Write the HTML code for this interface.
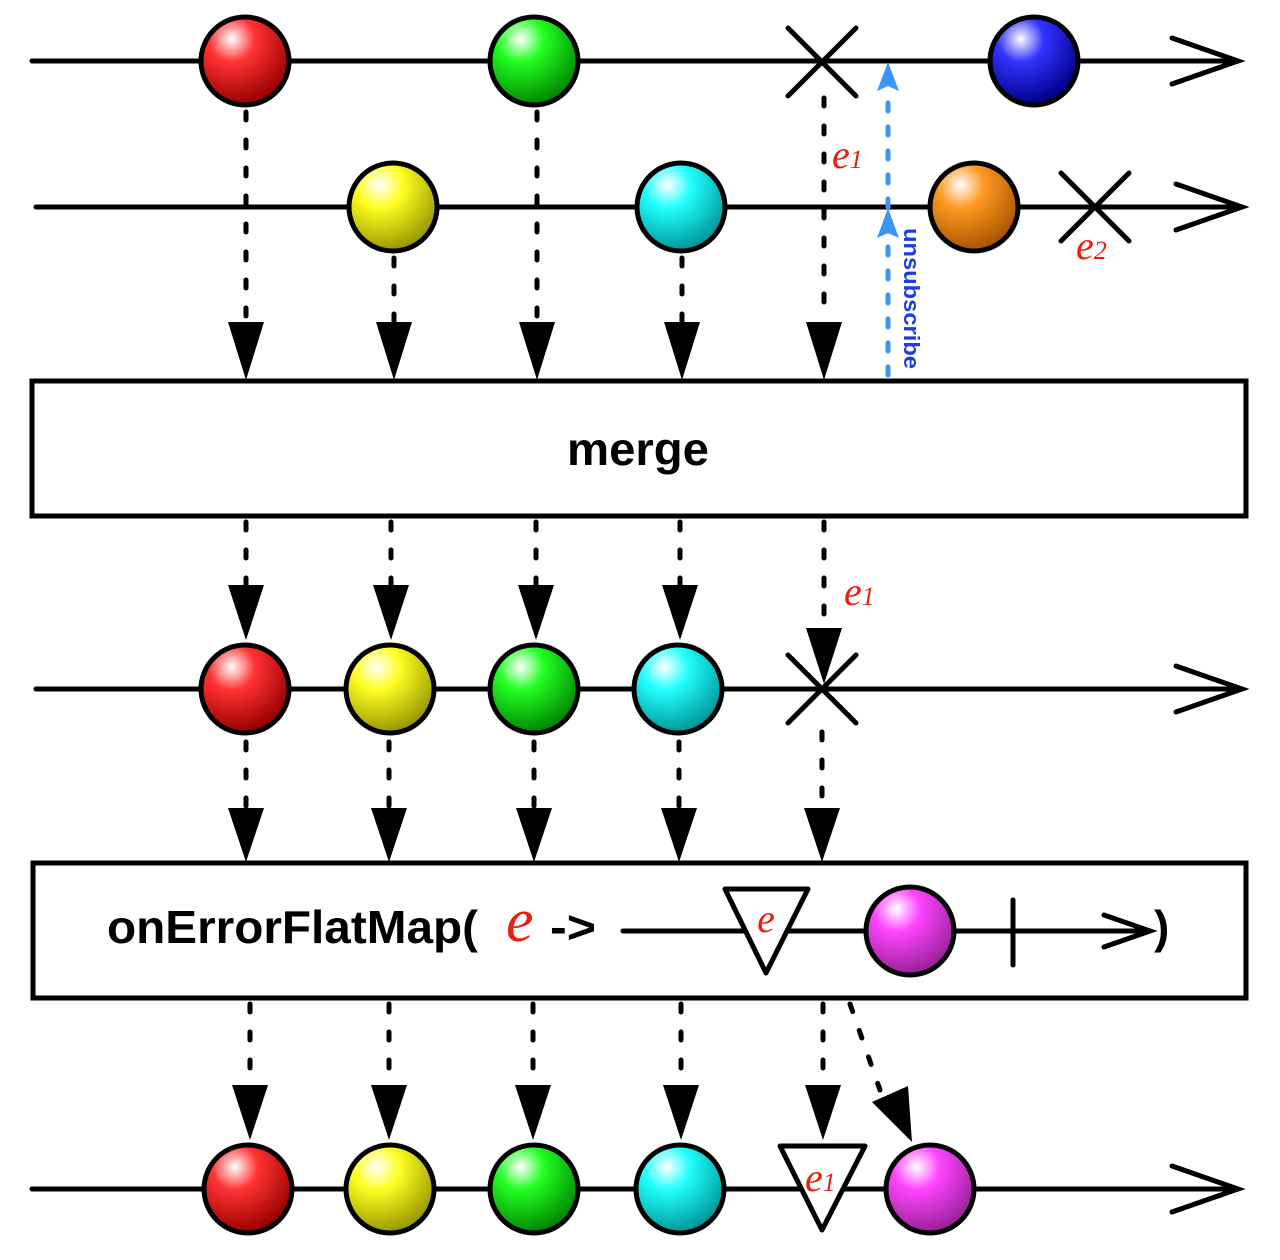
<!DOCTYPE html>
<html><head><meta charset="utf-8"><style>html,body{margin:0;padding:0;background:#fff}svg{display:block}</style></head>
<body>
<svg width="1280" height="1260" viewBox="0 0 1280 1260" xmlns="http://www.w3.org/2000/svg">
<defs>
<radialGradient id="gr" cx="35%" cy="25%" r="75%"><stop offset="0" stop-color="#fff"/><stop offset="0.35" stop-color="#f33"/><stop offset="1" stop-color="#900"/></radialGradient>
<radialGradient id="gg" cx="35%" cy="25%" r="75%"><stop offset="0" stop-color="#fff"/><stop offset="0.35" stop-color="#2f2"/><stop offset="1" stop-color="#080"/></radialGradient>
<radialGradient id="gb" cx="35%" cy="25%" r="75%"><stop offset="0" stop-color="#fff"/><stop offset="0.35" stop-color="#33f"/><stop offset="1" stop-color="#008"/></radialGradient>
<radialGradient id="gy" cx="35%" cy="25%" r="75%"><stop offset="0" stop-color="#fff"/><stop offset="0.35" stop-color="#ff2"/><stop offset="1" stop-color="#990"/></radialGradient>
<radialGradient id="gc" cx="35%" cy="25%" r="75%"><stop offset="0" stop-color="#fff"/><stop offset="0.35" stop-color="#2ff"/><stop offset="1" stop-color="#099"/></radialGradient>
<radialGradient id="go" cx="35%" cy="25%" r="75%"><stop offset="0" stop-color="#fff"/><stop offset="0.35" stop-color="#f92"/><stop offset="1" stop-color="#a50"/></radialGradient>
<radialGradient id="gm" cx="35%" cy="25%" r="75%"><stop offset="0" stop-color="#fff"/><stop offset="0.35" stop-color="#f4f"/><stop offset="1" stop-color="#929"/></radialGradient>
</defs>
<g stroke="#000" stroke-width="5" fill="none" stroke-linecap="round">
<line x1="32" y1="61" x2="1238" y2="61"/><path d="M1172 38 L1238 61 L1172 84"/>
<line x1="36" y1="207" x2="1242" y2="207"/><path d="M1176 184 L1242 207 L1176 230"/>
<line x1="36" y1="689" x2="1242" y2="689"/><path d="M1176 666 L1242 689 L1176 712"/>
<line x1="32" y1="1189" x2="1238" y2="1189"/><path d="M1172 1166 L1238 1189 L1172 1212"/>
</g>
<g stroke="#000" stroke-width="5" stroke-dasharray="8 20" stroke-linecap="round" fill="none">
<line x1="246" y1="112" x2="246" y2="322"/>
<line x1="394" y1="258" x2="394" y2="322"/>
<line x1="537" y1="112" x2="537" y2="322"/>
<line x1="682" y1="258" x2="682" y2="322"/>
<line x1="824" y1="98" x2="824" y2="322"/>
<line x1="246" y1="522" x2="246" y2="585"/>
<line x1="391" y1="522" x2="391" y2="585"/>
<line x1="536" y1="522" x2="536" y2="585"/>
<line x1="680" y1="522" x2="680" y2="585"/>
<line x1="824" y1="522" x2="824" y2="640"/>
<line x1="246" y1="742" x2="246" y2="808"/>
<line x1="389" y1="742" x2="389" y2="808"/>
<line x1="534" y1="742" x2="534" y2="808"/>
<line x1="679" y1="742" x2="679" y2="808"/>
<line x1="822" y1="732" x2="822" y2="808"/>
<line x1="250" y1="1004" x2="250" y2="1085"/>
<line x1="389" y1="1004" x2="389" y2="1085"/>
<line x1="533" y1="1004" x2="533" y2="1085"/>
<line x1="681" y1="1004" x2="681" y2="1085"/>
<line x1="823" y1="1004" x2="823" y2="1085"/>
<line x1="850" y1="1004" x2="880" y2="1090"/>
</g>
<g fill="#000">
<path d="M228 322 L264 322 L246 380Z"/><path d="M376 322 L412 322 L394 380Z"/><path d="M519 322 L555 322 L537 380Z"/><path d="M664 322 L700 322 L682 380Z"/><path d="M806 322 L842 322 L824 380Z"/>
<path d="M228 585 L264 585 L246 640Z"/><path d="M373 585 L409 585 L391 640Z"/><path d="M518 585 L554 585 L536 640Z"/><path d="M662 585 L698 585 L680 640Z"/><path d="M806 628 L842 628 L824 684Z"/>
<path d="M228 808 L264 808 L246 862Z"/><path d="M371 808 L407 808 L389 862Z"/><path d="M516 808 L552 808 L534 862Z"/><path d="M661 808 L697 808 L679 862Z"/><path d="M804 808 L840 808 L822 862Z"/>
<path d="M232 1085 L268 1085 L250 1140Z"/><path d="M371 1085 L407 1085 L389 1140Z"/><path d="M515 1085 L551 1085 L533 1140Z"/><path d="M663 1085 L699 1085 L681 1140Z"/><path d="M805 1085 L841 1085 L823 1140Z"/>
<path d="M872 1102 L908 1086 L912 1142Z"/>
</g>
<g stroke="#3a96f0" stroke-width="5" stroke-dasharray="8 16" stroke-linecap="round" fill="none">
<line x1="888" y1="375" x2="888" y2="92"/>
</g>
<g fill="#3a96f0"><path d="M877 91 L888 62 L899 91 L888 86Z"/><path d="M877 238 L888 208 L899 238 L888 233Z"/></g>
<text transform="translate(904,228) rotate(90)" font-family="Liberation Sans, sans-serif" font-weight="bold" font-size="22" fill="#1a3fe0" textLength="141" lengthAdjust="spacingAndGlyphs">unsubscribe</text>
<rect x="32" y="381" width="1214" height="135" fill="#fff" stroke="#000" stroke-width="5"/>
<text x="638" y="465" text-anchor="middle" font-family="Liberation Sans, sans-serif" font-weight="bold" font-size="46" textLength="142" lengthAdjust="spacingAndGlyphs">merge</text>
<rect x="33" y="863" width="1213" height="135" fill="#fff" stroke="#000" stroke-width="5"/>
<text x="107" y="943" font-family="Liberation Sans, sans-serif" font-weight="bold" font-size="46" textLength="371" lengthAdjust="spacingAndGlyphs">onErrorFlatMap(</text>
<text x="506" y="941" font-family="Liberation Serif, serif" font-style="italic" font-size="62" fill="#e8200e">e</text>
<text x="550" y="943" font-family="Liberation Sans, sans-serif" font-weight="bold" font-size="46" textLength="46" lengthAdjust="spacingAndGlyphs">-&gt;</text>
<text x="1154" y="943" font-family="Liberation Sans, sans-serif" font-weight="bold" font-size="46">)</text>
<g stroke="#000" stroke-width="5" fill="none" stroke-linecap="round">
<line x1="623" y1="931" x2="1150" y2="931"/><path d="M1104 915 L1150 931 L1104 947"/>
<line x1="1013" y1="900" x2="1013" y2="965"/>
</g>
<path d="M725 889 L808 889 L766 973Z" fill="#fff" stroke="#000" stroke-width="5" stroke-linejoin="round"/>
<text x="766" y="932" text-anchor="middle" font-family="Liberation Serif, serif" font-style="italic" font-size="40" fill="#e8200e">e</text>
<path d="M780 1146 L865 1146 L822 1230Z" fill="#fff" stroke="#000" stroke-width="5" stroke-linejoin="round"/>
<text x="805" y="1191" font-family="Liberation Serif, serif" font-style="italic" font-size="40" fill="#e8200e">e<tspan font-size="26">1</tspan></text>
<g stroke="#000" stroke-width="5">
<circle cx="245" cy="61" r="44" fill="url(#gr)"/><circle cx="534" cy="61" r="44" fill="url(#gg)"/><circle cx="1034" cy="61" r="44" fill="url(#gb)"/>
<circle cx="393" cy="207" r="44" fill="url(#gy)"/><circle cx="681" cy="207" r="44" fill="url(#gc)"/><circle cx="974" cy="207" r="44" fill="url(#go)"/>
<circle cx="245" cy="689" r="44" fill="url(#gr)"/><circle cx="390" cy="689" r="44" fill="url(#gy)"/><circle cx="534" cy="689" r="44" fill="url(#gg)"/><circle cx="678" cy="689" r="44" fill="url(#gc)"/>
<circle cx="910" cy="931" r="44" fill="url(#gm)"/>
<circle cx="248" cy="1189" r="44" fill="url(#gr)"/><circle cx="390" cy="1189" r="44" fill="url(#gy)"/><circle cx="534" cy="1189" r="44" fill="url(#gg)"/><circle cx="680" cy="1189" r="44" fill="url(#gc)"/><circle cx="930" cy="1189" r="44" fill="url(#gm)"/>
</g>
<g stroke="#000" stroke-width="5" stroke-linecap="round">
<path d="M788 28 L856 96 M856 28 L788 96"/>
<path d="M1061 173 L1129 241 M1129 173 L1061 241"/>
<path d="M788 655 L856 723 M856 655 L788 723"/>
</g>
<g font-family="Liberation Serif, serif" font-style="italic" fill="#e8200e" font-size="40">
<text x="832" y="168">e<tspan font-size="26">1</tspan></text>
<text x="844" y="605">e<tspan font-size="26">1</tspan></text>
<text x="1076" y="259">e<tspan font-size="26">2</tspan></text>
</g>
</svg>
</body></html>
